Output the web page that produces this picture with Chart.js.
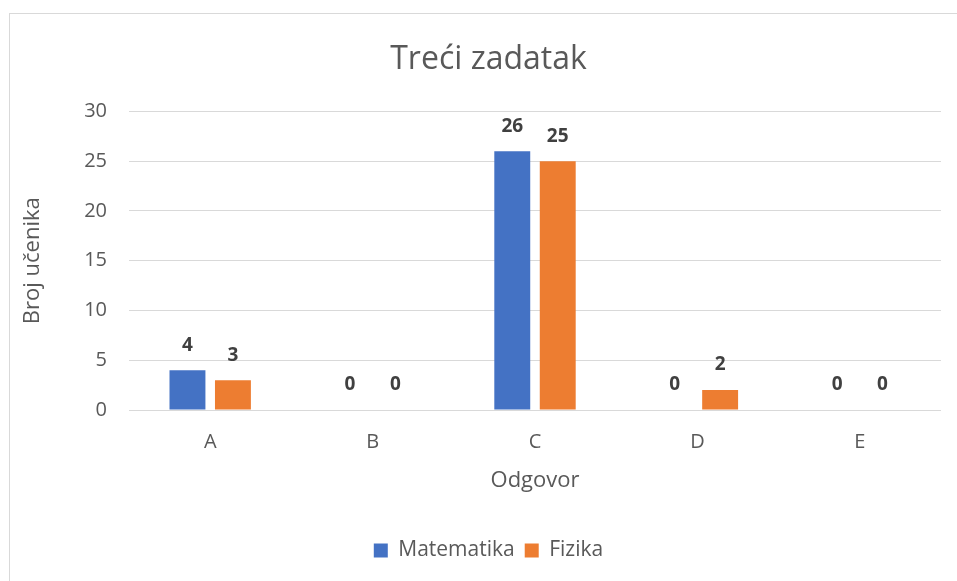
<!DOCTYPE html>
<html>
<head>
<meta charset="utf-8">
<script src="https://cdn.jsdelivr.net/npm/chart.js@4"></script>
<style>
  html, body { margin: 0; padding: 0; background: #fff; overflow: hidden; }
  #frame { position: absolute; left: 9px; top: 13px; width: 1000px; height: 1000px; border: 1px solid #d9d9d9; box-sizing: border-box; }
  #wrap { position: absolute; left: 0; top: 0; width: 957px; height: 581px; }
</style>
</head>
<body>
<div id="frame"></div>
<div id="wrap"><canvas id="chart" width="957" height="581"></canvas></div>
<script>
let categories = ['A', 'B', 'C', 'D', 'E'];
let matematika = [4, 0, 26, 0, 0];
let fizika = [3, 0, 25, 2, 0];
let yTicks = [0, 5, 10, 15, 20, 25, 30];

let fontFamily = '"Open Sans", sans-serif';
let textColor = '#595959';

// draws the value above each bar, like the excel data labels
let barLabels = {
    id: 'barLabels',
    afterDatasetsDraw(chart) {
        let ctx = chart.ctx;
        ctx.save();
        ctx.font = 'bold 19px ' + fontFamily;
        ctx.fillStyle = '#404040';
        ctx.textAlign = 'center';
        ctx.textBaseline = 'middle';
        chart.data.datasets.forEach((ds, i) => {
            chart.getDatasetMeta(i).data.forEach((bar, j) => {
                ctx.fillText(String(ds.data[j]), bar.x, bar.y - 25);
            });
        });
        ctx.restore();
    }
};

let canvas = document.getElementById('chart').getContext('2d');
new Chart(canvas, {
    type: 'bar',
    data: {
        labels: categories,
        datasets: [{
            label: 'Matematika',
            data: matematika,
            backgroundColor: '#4472C4',
            categoryPercentage: 0.56,
            barPercentage: 0.79
        }, {
            label: 'Fizika',
            data: fizika,
            backgroundColor: '#ED7D31',
            categoryPercentage: 0.56,
            barPercentage: 0.79
        }]
    },
    options: {
        responsive: false,
        animation: false,
        layout: { padding: { left: 36, right: 16, top: 0, bottom: 10 } },
        scales: {
            x: {
                afterFit(scale) { scale.height = 120; },
                grid: { display: false, drawTicks: false },
                border: { display: false },
                ticks: { color: textColor, font: { family: fontFamily, size: 20 }, padding: 20 },
                title: { display: true, text: 'Odgovor', color: textColor, font: { family: fontFamily, size: 22 }, padding: { top: 0, bottom: 36 } }
            },
            y: {
                min: 0,
                max: 30,
                afterBuildTicks(scale) { scale.ticks = yTicks.map(v => ({ value: v })); },
                afterFit(scale) { scale.width = 93; },
                grid: { color: '#d9d9d9', drawTicks: false },
                border: { display: false },
                ticks: { color: textColor, font: { family: fontFamily, size: 20 }, padding: 22 },
                title: { display: true, text: 'Broj učenika', color: textColor, font: { family: fontFamily, size: 22 }, padding: { top: -16, bottom: 0 } }
            }
        },
        plugins: {
            title: {
                display: true,
                text: 'Treći zadatak',
                color: textColor,
                font: { family: fontFamily, size: 32, weight: 'normal' },
                padding: { top: 41, bottom: 32 }
            },
            legend: {
                position: 'bottom',
                labels: { color: textColor, font: { family: fontFamily, size: 21 }, boxWidth: 14, boxHeight: 14, padding: 10 }
            },
            tooltip: { enabled: false }
        }
    },
    plugins: [barLabels]
});
</script>
</body>
</html>
